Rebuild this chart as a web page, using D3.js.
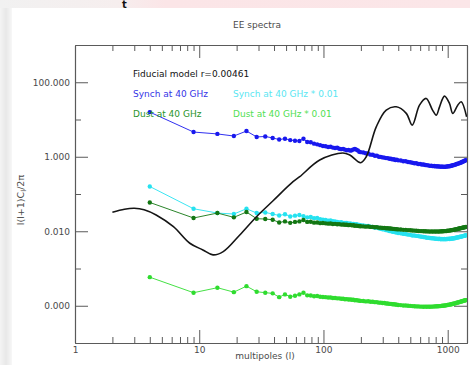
<!DOCTYPE html>
<html>
<head>
<meta charset="utf-8">
<script src="https://cdn.jsdelivr.net/npm/d3@7"></script>
<style>
  body { margin: 0; background: #fff; }
  svg { display: block; }
  text { font-family: "DejaVu Sans", sans-serif; }
</style>
</head>
<body>
<svg id="chart" width="470" height="365"></svg>
<script>
// Multipole bin centres shared by the foreground spectra
const ells = [4,9,14,19,24,29,34,39,44,49,54,59,64,69,74,79,84,89,94,99,
  104,109,114,119,124,129,134,139,144,149,154,159,164,169,174,179,184,189,194,199,
  209,219,229,239,249,259,269,279,289,299,309,319,329,339,349,359,369,379,389,399,
  419,439,459,479,499,519,539,559,579,599,619,639,659,679,699,719,739,759,779,799,
  819,839,859,879,899,919,939,959,979,999,1019,1039,1059,1079,1099,1119,1139,1159,1179,1199,
  1219,1239,1259,1279,1299,1319,1339,1359,1379,1399];

// Synchrotron at 40 GHz
const synch = [15.8,4.6,4.1,3.6,4.9,3.4,3.5,3.2,2.9,3.05,2.8,2.7,2.65,3.05,2.5,2.45,2.25,2.15,2.05,1.95,
  1.92,1.83,1.86,1.76,1.72,1.75,1.64,1.6,1.63,1.55,1.5,1.53,1.46,1.5,1.58,1.62,1.55,1.48,1.36,1.33,
  1.3,1.24,1.22,1.14,1.13,1.06,1.07,1.0,0.99,0.96,0.95,0.92,0.92,0.88,0.88,0.85,0.86,0.82,0.83,0.8,
  0.79,0.76,0.76,0.72,0.71,0.69,0.67,0.67,0.64,0.64,0.62,0.62,0.6,0.595,0.585,0.57,0.575,0.56,0.565,0.55,
  0.555,0.545,0.55,0.535,0.545,0.535,0.54,0.535,0.55,0.545,0.56,0.555,0.575,0.575,0.595,0.595,0.615,0.615,0.64,0.645,
  0.665,0.665,0.69,0.695,0.725,0.73,0.755,0.765,0.795,0.81];

// Synchrotron at 40 GHz scaled by 0.01
const synchScaled = [0.159,0.0402,0.0308,0.029,0.0402,0.0308,0.032,0.029,0.0265,0.0285,0.025,0.0262,0.0272,0.0255,0.0236,0.0242,0.0225,0.0228,0.0212,0.0205,
  0.0201,0.0193,0.0196,0.0186,0.0184,0.0179,0.0172,0.0176,0.0168,0.0166,0.0168,0.016,0.0163,0.0156,0.0158,0.0152,0.0155,0.0149,0.0147,0.0145,
  0.0143,0.0138,0.0139,0.0132,0.013,0.0125,0.0126,0.012,0.0117,0.0113,0.0112,0.0107,0.0106,0.0102,0.0101,0.0097,0.0097,0.0094,0.0093,0.009,
  0.0088,0.0085,0.0084,0.0081,0.008,0.0077,0.0077,0.0075,0.0074,0.0072,0.0071,0.007,0.0069,0.0067,0.0067,0.0066,0.0065,0.0065,0.0064,0.0063,
  0.0063,0.0062,0.0063,0.0061,0.0062,0.0061,0.0062,0.0061,0.0062,0.0062,0.0063,0.0062,0.0064,0.0063,0.0065,0.0064,0.0066,0.0066,0.0068,0.0068,
  0.0069,0.007,0.0071,0.0071,0.0073,0.0073,0.0075,0.0075,0.0077,0.0078];

// Dust at 40 GHz
const dust = [0.0593,0.0227,0.0308,0.0236,0.0328,0.0217,0.0213,0.0204,0.0172,0.0184,0.0168,0.0178,0.0184,0.02,0.0178,0.018,0.017,0.0172,0.0165,0.0166,
  0.0163,0.016,0.0162,0.0157,0.0158,0.0154,0.0155,0.0151,0.0152,0.0149,0.015,0.0146,0.0148,0.0144,0.0145,0.0141,0.0142,0.0139,0.0137,0.0136,
  0.0135,0.0133,0.0134,0.0131,0.0131,0.0128,0.0129,0.0125,0.0125,0.0123,0.0123,0.012,0.012,0.0118,0.0118,0.0116,0.0116,0.0114,0.0114,0.0112,
  0.0111,0.0109,0.0109,0.0107,0.0106,0.0105,0.0104,0.0103,0.0102,0.0101,0.0101,0.01,0.01,0.0099,0.0099,0.0098,0.0099,0.0098,0.0099,0.0098,
  0.0099,0.0098,0.0099,0.0099,0.01,0.01,0.0101,0.0101,0.0102,0.0103,0.0104,0.0104,0.0106,0.0107,0.0108,0.0109,0.0111,0.0112,0.0114,0.0115,
  0.0117,0.0118,0.012,0.0121,0.0123,0.0124,0.0126,0.0127,0.0129,0.0131];

// Dust at 40 GHz scaled by 0.01
const dustScaled = [5.85e-4,2.24e-4,3.05e-4,2.32e-4,3.36e-4,2.38e-4,2.24e-4,2.15e-4,1.7e-4,2.02e-4,1.75e-4,1.85e-4,2.02e-4,2.24e-4,1.9e-4,1.88e-4,1.8e-4,1.82e-4,1.74e-4,1.72e-4,
  1.7e-4,1.66e-4,1.67e-4,1.62e-4,1.62e-4,1.58e-4,1.58e-4,1.54e-4,1.54e-4,1.5e-4,1.51e-4,1.47e-4,1.48e-4,1.45e-4,1.45e-4,1.41e-4,1.42e-4,1.39e-4,1.37e-4,1.35e-4,
  1.34e-4,1.31e-4,1.32e-4,1.28e-4,1.28e-4,1.25e-4,1.25e-4,1.21e-4,1.21e-4,1.18e-4,1.18e-4,1.15e-4,1.15e-4,1.12e-4,1.12e-4,1.1e-4,1.1e-4,1.08e-4,1.07e-4,1.05e-4,
  1.04e-4,1.02e-4,1.02e-4,1.0e-4,9.9e-5,9.8e-5,9.7e-5,9.6e-5,9.6e-5,9.5e-5,9.5e-5,9.4e-5,9.5e-5,9.4e-5,9.5e-5,9.4e-5,9.5e-5,9.5e-5,9.6e-5,9.6e-5,
  9.7e-5,9.7e-5,9.8e-5,9.8e-5,1.0e-4,1.0e-4,1.02e-4,1.02e-4,1.04e-4,1.05e-4,1.07e-4,1.07e-4,1.1e-4,1.1e-4,1.13e-4,1.13e-4,1.16e-4,1.17e-4,1.2e-4,1.21e-4,
  1.24e-4,1.25e-4,1.28e-4,1.29e-4,1.32e-4,1.33e-4,1.36e-4,1.37e-4,1.4e-4,1.42e-4];

// Fiducial EE model, r = 0.00461
const modelL  = [2,2.5,3,3.6,4.5,6.2,8.4,10.7,12.9,15.6,21.2,28.9,39.3,56.9,64.4,93.3,143,163,199,221,266,320,385,464,518,593,671,755,809,860,942,1033,1098,1205,1284,1420];
const modelCl = [0.0323,0.039,0.0414,0.038,0.0274,0.0133,0.00476,0.00315,0.00232,0.00284,0.00796,0.0246,0.066,0.214,0.291,0.816,1.26,1.11,0.69,1.0,6.37,17.9,21.9,14.6,7.08,24.3,36.8,17.9,13.1,21.9,42.4,27,14.6,24.3,29.8,11.8];

const xMajorTicks = [1, 10, 100, 1000];
const xTickLabels = ["1", "10", "100", "1000"];
const yMajorTicks = [1e-4, 1e-2, 1, 100];
const yTickLabels = ["0.000", "0.010", "1.000", "100.000"];
const yMinorTicks = [1e-3, 1e-1, 10];

const legendLabels = ["Fiducial model r=0.00461", "Synch at 40 GHz", "Dust at 40 GHz",
                      "Synch at 40 GHz * 0.01", "Dust at 40 GHz * 0.01"];

const COL = {
  model: "#151515",
  synch: "#1818ee",
  synchScaled: "#26e2f0",
  dust: "#137713",
  dustScaled: "#2fdc2f",
  axis: "#5a5a5a",
  text: "#4a4a4a"
};

const svg = d3.select("#chart");
const W = 470, H = 365;
const P = { left: 75, right: 467, top: 45, bottom: 343 };

// Slide backdrop around the figure
const defs = svg.append("defs");
const topGrad = defs.append("linearGradient").attr("id", "topband");
topGrad.append("stop").attr("offset", "0").attr("stop-color", "#f1f1f1");
topGrad.append("stop").attr("offset", "0.25").attr("stop-color", "#f6eeee");
topGrad.append("stop").attr("offset", "0.35").attr("stop-color", "#fbe5e7");
topGrad.append("stop").attr("offset", "1").attr("stop-color", "#fbe6e8");
const leftGrad = defs.append("linearGradient").attr("id", "leftband");
leftGrad.append("stop").attr("offset", "0").attr("stop-color", "#f4f4f4");
leftGrad.append("stop").attr("offset", "0.5").attr("stop-color", "#e8e8e8");
leftGrad.append("stop").attr("offset", "1").attr("stop-color", "#f7f7f7");

svg.append("rect").attr("width", W).attr("height", H).attr("fill", "#fff");
svg.append("rect").attr("x", 0).attr("y", 0).attr("width", 12).attr("height", H).attr("fill", "url(#leftband)");
svg.append("rect").attr("x", 0).attr("y", 0).attr("width", W).attr("height", 8).attr("fill", "url(#topband)");
svg.append("text").attr("x", 122).attr("y", 8).attr("font-size", 10).attr("font-weight", "bold")
  .attr("fill", "#111").text("t");

const x = d3.scaleLog().domain([1, 1430]).range([P.left, P.right]);
const y = d3.scaleLog().domain([1e-5, 1000]).range([P.bottom, P.top]);

const isDecade = v => Math.abs(Math.log10(v) - Math.round(Math.log10(v))) < 1e-9;
const xMinorTicks = x.ticks().filter(v => !isDecade(v));

function styleAxis(g) {
  g.selectAll("path.domain").attr("stroke", COL.axis).attr("stroke-width", 1.1);
  g.selectAll(".tick line").attr("stroke", COL.axis).attr("stroke-width", 1);
  g.selectAll(".tick text").attr("fill", COL.text).attr("font-size", 9)
    .attr("font-family", '"DejaVu Sans", sans-serif');
}

// Bottom axis: minor ticks, then labelled majors
svg.append("g").attr("transform", `translate(0,${P.bottom})`)
  .call(d3.axisBottom(x).tickValues(xMinorTicks).tickSize(-6).tickSizeOuter(0).tickFormat(""))
  .call(styleAxis);
svg.append("g").attr("transform", `translate(0,${P.bottom})`)
  .call(d3.axisBottom(x).tickValues(xMajorTicks).tickSize(-13).tickSizeOuter(0).tickPadding(4)
    .tickFormat((d, i) => xTickLabels[i]))
  .call(styleAxis);

// Top axis mirrors the ticks without labels
svg.append("g").attr("transform", `translate(0,${P.top})`)
  .call(d3.axisTop(x).tickValues(xMinorTicks).tickSize(-6).tickSizeOuter(0).tickFormat(""))
  .call(styleAxis);
svg.append("g").attr("transform", `translate(0,${P.top})`)
  .call(d3.axisTop(x).tickValues(xMajorTicks.slice(1)).tickSize(-13).tickSizeOuter(0).tickFormat(""))
  .call(styleAxis);

// Left axis
svg.append("g").attr("transform", `translate(${P.left},0)`)
  .call(d3.axisLeft(y).tickValues(yMinorTicks).tickSize(-6).tickSizeOuter(0).tickFormat(""))
  .call(styleAxis);
svg.append("g").attr("transform", `translate(${P.left},0)`)
  .call(d3.axisLeft(y).tickValues(yMajorTicks).tickSize(-13).tickSizeOuter(0).tickPadding(5)
    .tickFormat((d, i) => yTickLabels[i]))
  .call(styleAxis);

// Right axis
svg.append("g").attr("transform", `translate(${P.right},0)`)
  .call(d3.axisRight(y).tickValues(yMinorTicks).tickSize(-6).tickSizeOuter(0).tickFormat(""))
  .call(styleAxis);
svg.append("g").attr("transform", `translate(${P.right},0)`)
  .call(d3.axisRight(y).tickValues(yMajorTicks).tickSize(-13).tickSizeOuter(0).tickFormat(""))
  .call(styleAxis);

// Plot data, clipped to the frame
defs.append("clipPath").attr("id", "plotclip").append("rect")
  .attr("x", P.left).attr("y", P.top).attr("width", P.right - P.left).attr("height", P.bottom - P.top);
const plot = svg.append("g").attr("clip-path", "url(#plotclip)");

const series = [
  { values: synch, color: COL.synch },
  { values: synchScaled, color: COL.synchScaled },
  { values: dust, color: COL.dust },
  { values: dustScaled, color: COL.dustScaled }
];

const ptLine = d3.line().x(d => x(d[0])).y(d => y(d[1]));
series.forEach(s => {
  const pts = ells.map((l, i) => [l, s.values[i]]);
  const g = plot.append("g");
  g.append("path").attr("d", ptLine(pts)).attr("fill", "none")
    .attr("stroke", s.color).attr("stroke-width", 0.9);
  g.selectAll("circle").data(pts).join("circle")
    .attr("cx", d => x(d[0])).attr("cy", d => y(d[1])).attr("r", 2.2)
    .attr("fill", s.color);
});

const modelLine = d3.line().x(d => x(d[0])).y(d => y(d[1])).curve(d3.curveCatmullRom.alpha(0.5));
plot.append("path").attr("d", modelLine(modelL.map((l, i) => [l, modelCl[i]])))
  .attr("fill", "none").attr("stroke", COL.model).attr("stroke-width", 1.6);

// Title and axis titles
svg.append("text").attr("x", 257).attr("y", 28).attr("text-anchor", "middle")
  .attr("font-size", 9).attr("fill", COL.text).text("EE spectra");
svg.append("text").attr("x", 265).attr("y", 359).attr("text-anchor", "middle")
  .attr("font-size", 9).attr("fill", COL.text).text("multipoles (l)");
const yl = svg.append("text").attr("transform", "translate(24,200) rotate(-90)")
  .attr("text-anchor", "middle").attr("font-size", 9.5).attr("fill", COL.text);
yl.append("tspan").text("l(l+1)C");
yl.append("tspan").attr("font-size", 7).attr("dy", 2).text("l");
yl.append("tspan").attr("dy", -2).text("/2π");

// Legend
const legend = [
  { text: legendLabels[0], color: "#111", x: 133, y: 77 },
  { text: legendLabels[1], color: "#3434e6", x: 133, y: 96.5 },
  { text: legendLabels[2], color: "#2a942a", x: 133, y: 116.5 },
  { text: legendLabels[3], color: "#5ae6f2", x: 233, y: 96.5 },
  { text: legendLabels[4], color: "#52e052", x: 233, y: 116.5 }
];
svg.append("g").selectAll("text").data(legend).join("text")
  .attr("x", d => d.x).attr("y", d => d.y).attr("font-size", 9)
  .attr("fill", d => d.color).text(d => d.text);
</script>
</body>
</html>
